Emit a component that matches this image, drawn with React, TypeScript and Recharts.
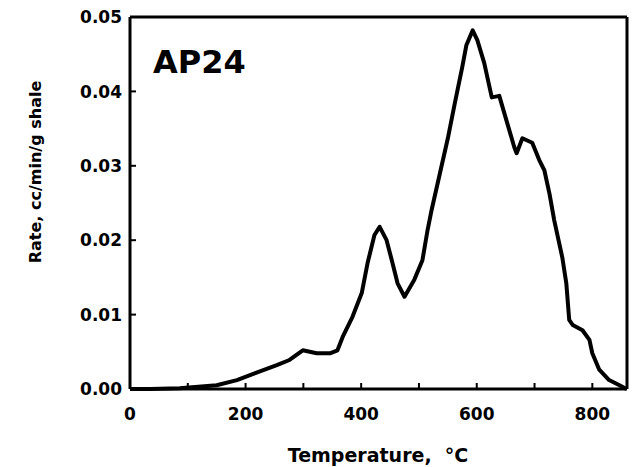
import { LineChart, Line, XAxis, YAxis, ReferenceLine } from 'recharts'

// Temperature (°C) and evolution rate (cc/min/g shale)
const temps = [
  0, 35, 86, 150, 185, 219, 254, 276, 299, 323, 346, 359, 368, 385, 401,
  411, 423, 432, 444, 453, 463, 475, 492, 506, 515, 522, 536, 550, 562, 575,
  582, 593, 601, 613, 626, 639, 651, 665, 669, 679, 696, 708, 717, 726, 734,
  748, 755, 760, 766, 783, 795, 800, 812, 829, 847, 859,
]
const rates = [
  0, 0, 0.0001, 0.0005, 0.0012, 0.0022, 0.0032, 0.0039, 0.0052, 0.0048, 0.0048, 0.0052, 0.007, 0.0097, 0.0129,
  0.0169, 0.0207, 0.0218, 0.02, 0.0173, 0.0142, 0.0124, 0.0147, 0.0173, 0.0214, 0.0241, 0.0289, 0.0337, 0.0384, 0.0433,
  0.0462, 0.0482, 0.0469, 0.0438, 0.0392, 0.0394, 0.0362, 0.0325, 0.0317, 0.0337, 0.0331, 0.0308, 0.0294, 0.0262, 0.0227,
  0.0177, 0.0142, 0.0093, 0.0086, 0.0079, 0.0066, 0.0048, 0.0026, 0.0012, 0.0005, 0,
]

const xTicks = [0, 100, 200, 300, 400, 500, 600, 700, 800]
const yTicks = [0, 0.01, 0.02, 0.03, 0.04, 0.05]

const data = temps.map((t, i) => ({ t, rate: rates[i] }))

const FONT = '"DejaVu Sans", sans-serif'

function XTick({ x, y, payload }: any) {
  const v = payload.value
  return (
    <g>
      {v > 0 && <line x1={x} x2={x} y1={y} y2={y - 6} stroke="#000" strokeWidth={2} />}
      {v % 200 === 0 && (
        <text x={x} y={y + 31} textAnchor="middle" fontFamily={FONT} fontWeight={700} fontSize={17} fill="#000">
          {v}
        </text>
      )}
    </g>
  )
}

function YTick({ x, y, payload }: any) {
  const v = payload.value
  return (
    <g>
      {v > 0 && v < 0.05 && <line x1={x} x2={x + 6} y1={y} y2={y} stroke="#000" strokeWidth={2} />}
      <text x={x - 8} y={y} dy="0.36em" textAnchor="end" fontFamily={FONT} fontWeight={700} fontSize={17} fill="#000">
        {v.toFixed(2)}
      </text>
    </g>
  )
}

function RightTick({ x, y, payload }: any) {
  const v = payload.value
  if (v <= 0 || v >= 0.05) return <g />
  return <line x1={x} x2={x - 6} y1={y} y2={y} stroke="#000" strokeWidth={2} />
}

export default function App() {
  return (
    <div style={{ position: 'absolute', left: 0, top: 0, background: '#fff' }}>
      <LineChart width={634} height={467} data={data} margin={{ top: 17, right: 0, bottom: 0, left: 0 }}>
        <XAxis
          dataKey="t"
          type="number"
          domain={[0, 860]}
          ticks={xTicks}
          height={78}
          tickSize={0}
          tickMargin={0}
          tickLine={false}
          axisLine={{ stroke: '#000', strokeWidth: 3 }}
          tick={<XTick />}
          interval={0}
        />
        <YAxis
          yAxisId="left"
          type="number"
          domain={[0, 0.05]}
          ticks={yTicks}
          width={130}
          tickSize={0}
          tickMargin={0}
          tickLine={false}
          axisLine={{ stroke: '#000', strokeWidth: 3 }}
          tick={<YTick />}
          interval={0}
        />
        <YAxis
          yAxisId="right"
          orientation="right"
          type="number"
          domain={[0, 0.05]}
          ticks={yTicks}
          width={7}
          tickSize={0}
          tickMargin={0}
          tickLine={false}
          axisLine={{ stroke: '#000', strokeWidth: 3 }}
          tick={<RightTick />}
          interval={0}
        />
        <ReferenceLine yAxisId="left" y={0.05} stroke="#000" strokeWidth={3} />
        <Line
          yAxisId="left"
          type="linear"
          dataKey="rate"
          stroke="#000"
          strokeWidth={4}
          strokeLinejoin="round"
          dot={false}
          isAnimationActive={false}
        />
        <text x={153} y={73} fontFamily={FONT} fontWeight={700} fontSize={32} fill="#000">
          AP24
        </text>
        <text
          x={0}
          y={0}
          transform="translate(41 172) rotate(-90)"
          textAnchor="middle"
          fontFamily={FONT}
          fontWeight={700}
          fontSize={16}
          fill="#000"
        >
          Rate, cc/min/g shale
        </text>
        <text x={378} y={462} textAnchor="middle" fontFamily={FONT} fontWeight={700} fontSize={19} fill="#000" xmlSpace="preserve">
          Temperature,  °C
        </text>
      </LineChart>
    </div>
  )
}
